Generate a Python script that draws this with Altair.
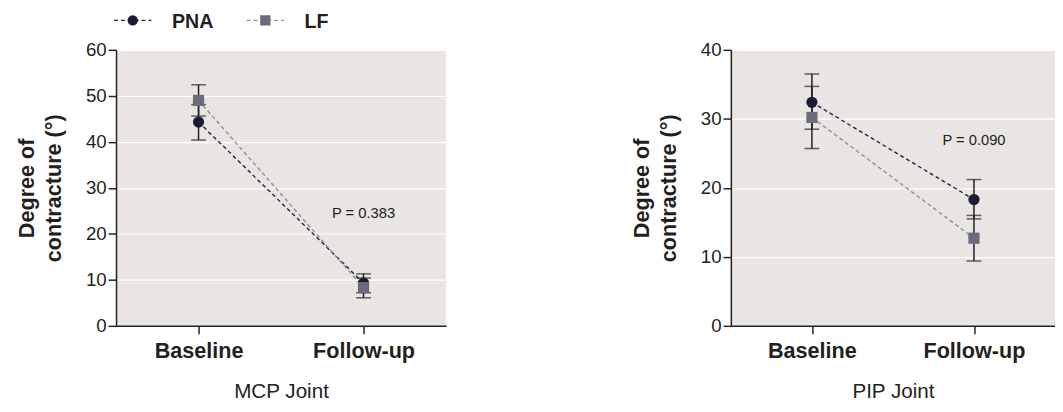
import altair as alt
import pandas as pd

# ---------------- data ----------------
times = ["Baseline", "Follow-up"]
groups = ["PNA", "LF"]

mcp_pna_mean = [44.3, 9.3]
mcp_pna_lo = [40.4, 7.2]
mcp_pna_hi = [48.1, 11.3]
mcp_lf_mean = [49.0, 8.3]
mcp_lf_lo = [45.6, 6.1]
mcp_lf_hi = [52.4, 10.4]

pip_pna_mean = [32.4, 18.3]
pip_pna_lo = [28.5, 15.5]
pip_pna_hi = [36.5, 21.2]
pip_lf_mean = [30.2, 12.7]
pip_lf_lo = [25.7, 9.4]
pip_lf_hi = [34.7, 16.0]

joint_titles = ["MCP Joint", "PIP Joint"]
p_labels = ["P = 0.383", "P = 0.090"]
p_label_y = [24.6, 26.9]
y_max = [60, 40]
y_title = ["Degree of", "contracture (°)"]

# ---------------- style ----------------
FONT = "Liberation Sans"
INK = "#231f20"
BG = "#e9e5e2"
marker_colors = ["#1d1b33", "#6c6b7e"]
line_colors = ["#25233a", "#8e8d9a"]
shapes = ["circle", "square"]


def make_panel(pna_mean, pna_lo, pna_hi, lf_mean, lf_lo, lf_hi,
               ymax, xtitle, plabel, py, width):
    df = pd.DataFrame({
        "time": times * 2,
        "group": [groups[0]] * 2 + [groups[1]] * 2,
        "mean": pna_mean + lf_mean,
        "lo": pna_lo + lf_lo,
        "hi": pna_hi + lf_hi,
    })
    xscale = alt.Scale(type="point", domain=times, padding=0.5)
    yscale = alt.Scale(domain=[0, ymax], nice=False)
    xaxis = alt.Axis(title=xtitle, labelAngle=0, labelFontWeight="bold",
                     labelFontSize=22, labelPadding=7, titleFontSize=21,
                     titleFontWeight="normal", titlePadding=20, grid=False,
                     tickSize=8)
    yaxis = alt.Axis(title=y_title, values=list(range(0, ymax + 1, 10)),
                     labelFontSize=19, labelPadding=2, tickSize=8,
                     titleFontSize=22, titleFontWeight="bold",
                     titlePadding=20, titleLineHeight=28, grid=True)
    X = alt.X("time:N", scale=xscale, axis=xaxis)
    base = alt.Chart(df)
    lines = base.mark_line(strokeDash=[4, 3], strokeWidth=1.4).encode(
        x=X,
        y=alt.Y("mean:Q", scale=yscale, axis=yaxis),
        stroke=alt.Stroke("group:N", scale=alt.Scale(domain=groups, range=line_colors), legend=None),
    )
    bars = base.mark_rule(color=INK, strokeWidth=1.5).encode(
        x=X, y=alt.Y("lo:Q", scale=yscale, axis=yaxis), y2="hi:Q")
    cap_lo = base.mark_tick(color=INK, size=15, thickness=1.5).encode(
        x=X, y=alt.Y("lo:Q", scale=yscale, axis=yaxis))
    cap_hi = base.mark_tick(color=INK, size=15, thickness=1.5).encode(
        x=X, y=alt.Y("hi:Q", scale=yscale, axis=yaxis))
    pts = base.mark_point(filled=True, opacity=1, size=130, strokeWidth=0).encode(
        x=X,
        y=alt.Y("mean:Q", scale=yscale, axis=yaxis),
        fill=alt.Fill("group:N", scale=alt.Scale(domain=groups, range=marker_colors), legend=None),
        shape=alt.Shape("group:N", scale=alt.Scale(domain=groups, range=shapes), legend=None),
    )
    tdf = pd.DataFrame({"time": [times[1]], "v": [py], "label": [plabel]})
    ptxt = alt.Chart(tdf).mark_text(font=FONT, fontSize=15, color=INK).encode(
        x=X, y=alt.Y("v:Q", scale=yscale, axis=yaxis), text="label:N")
    return alt.layer(lines, bars, cap_lo, cap_hi, pts, ptxt).properties(
        width=width, height=281, view=alt.ViewBackground(fill=BG, strokeWidth=0))


left = make_panel(mcp_pna_mean, mcp_pna_lo, mcp_pna_hi, mcp_lf_mean, mcp_lf_lo, mcp_lf_hi,
                  y_max[0], joint_titles[0], p_labels[0], p_label_y[0], 336)
right = make_panel(pip_pna_mean, pip_pna_lo, pip_pna_hi, pip_lf_mean, pip_lf_lo, pip_lf_hi,
                   y_max[1], joint_titles[1], p_labels[1], p_label_y[1], 330)

# ---------------- legend ----------------
leg_df = pd.DataFrame({"group": groups})
lx = alt.X("group:N", scale=alt.Scale(type="point", domain=groups, range=[17, 152], padding=0), axis=None)
leg_base = alt.Chart(leg_df)
leg_rule = leg_base.mark_rule(xOffset=-19, x2Offset=19, strokeDash=[4, 3], strokeWidth=1.5).encode(
    x=lx, x2="group:N", y=alt.value(9),
    stroke=alt.Stroke("group:N", scale=alt.Scale(domain=groups, range=line_colors), legend=None))
leg_pts = leg_base.mark_point(filled=True, opacity=1, size=110, strokeWidth=0).encode(
    x=lx, y=alt.value(9),
    fill=alt.Fill("group:N", scale=alt.Scale(domain=groups, range=marker_colors), legend=None),
    shape=alt.Shape("group:N", scale=alt.Scale(domain=groups, range=shapes), legend=None))
leg_txt = leg_base.mark_text(align="left", baseline="middle", dx=40, dy=2, font=FONT,
                             fontSize=20, fontWeight="bold", color=INK).encode(
    x=lx, y=alt.value(9), text="group:N")
legend = alt.layer(leg_rule, leg_pts, leg_txt).properties(
    width=340, height=20, view=alt.ViewBackground(fill="white", strokeWidth=0))

panels = alt.hconcat(left, right, spacing=187)

chart = alt.vconcat(legend, panels, spacing=9).properties(
    padding={"left": 7, "top": 0, "right": 0, "bottom": 0},
    background="white",
).configure_view(strokeWidth=0).configure_axis(
    labelFont=FONT, titleFont=FONT, labelColor=INK, titleColor=INK,
    domainColor=INK, domainWidth=1.5, tickColor=INK, tickWidth=1.5,
    gridColor="white", gridWidth=1.2,
).configure_concat(spacing=9)

chart.save("out.html", embed_options={"renderer": "svg", "actions": False})
